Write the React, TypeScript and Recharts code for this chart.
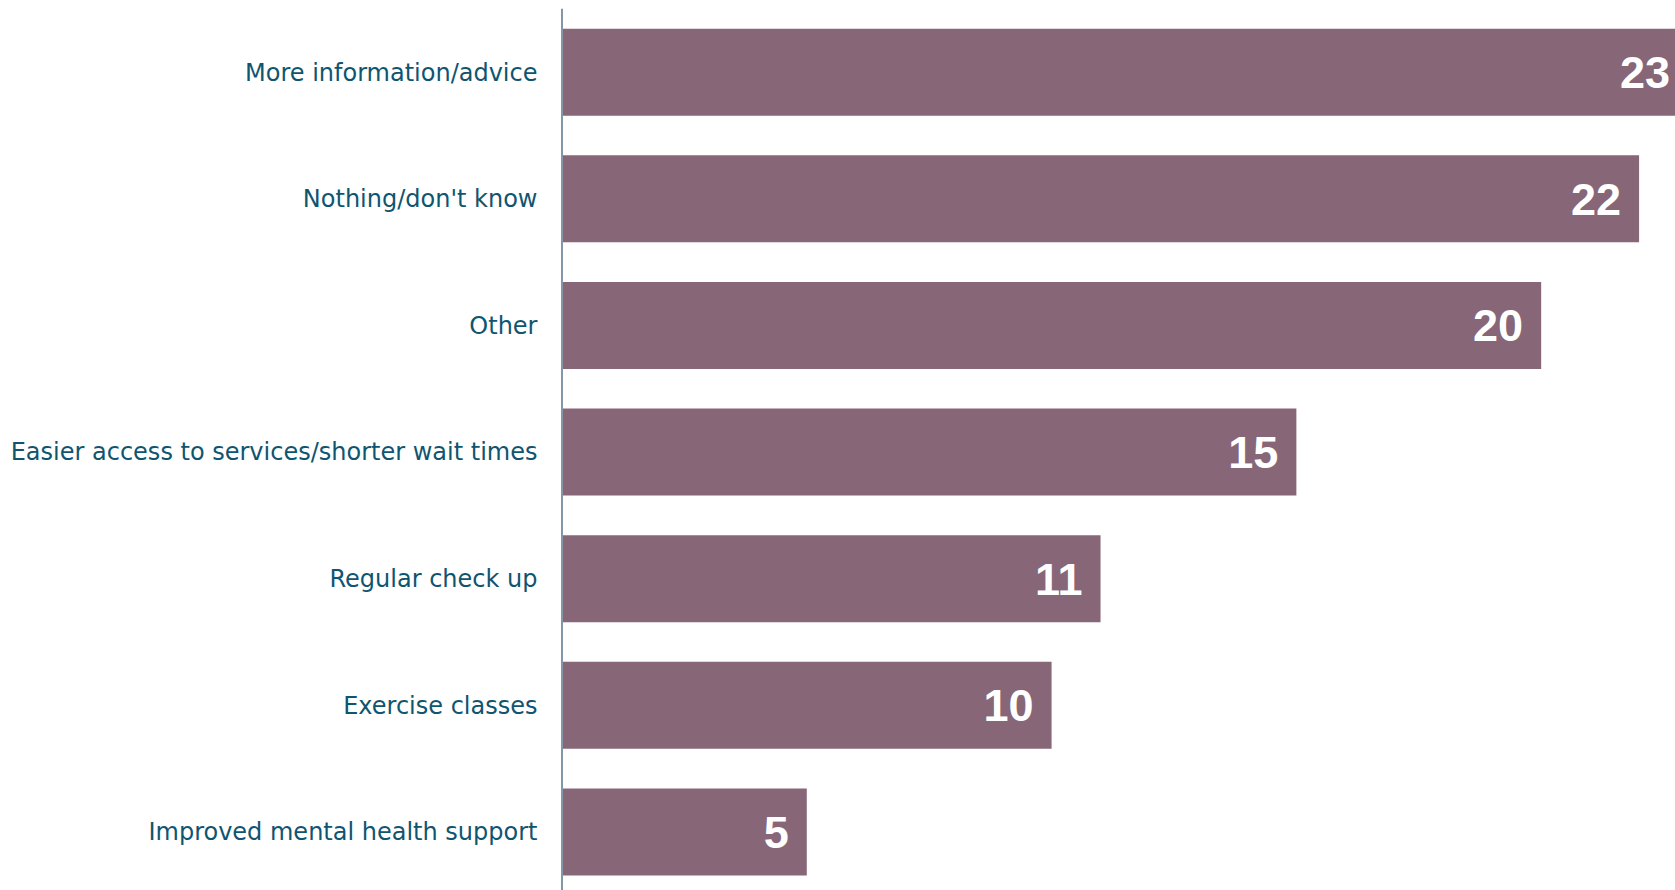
import { Bar, BarChart, LabelList, XAxis, YAxis } from "recharts";

const categories = [
  "More information/advice",
  "Nothing/don't know",
  "Other",
  "Easier access to services/shorter wait times",
  "Regular check up",
  "Exercise classes",
  "Improved mental health support",
];

const values = [23, 22, 20, 15, 11, 10, 5];

const data = categories.map((name, i) => ({ name, value: values[i] }));

const BAR_COLOR = "#876678";
const LABEL_COLOR = "#0f5570";

export default function App() {
  return (
    <div
      style={{
        position: "fixed",
        top: 0,
        left: 0,
        width: 1675,
        height: 890,
        overflow: "hidden",
        background: "#ffffff",
      }}
    >
      <BarChart
        width={1737}
        height={895}
        data={data}
        layout="vertical"
        margin={{ top: 8.7, right: 0, bottom: 0, left: 0 }}
        barCategoryGap="15.8%"
      >
        <XAxis type="number" domain={[0, 24]} hide />
        <YAxis
          type="category"
          dataKey="name"
          width={562}
          interval={0}
          tickLine={false}
          tickSize={0}
          tickMargin={24.5}
          axisLine={{ stroke: "#8497a8", strokeWidth: 2 }}
          tick={{
            fill: LABEL_COLOR,
            fontSize: 24,
            fontFamily: "'DejaVu Sans', sans-serif",
          }}
        />
        <Bar dataKey="value" fill={BAR_COLOR} isAnimationActive={false}>
          <LabelList
            dataKey="value"
            position="insideRight"
            offset={18}
            fill="#ffffff"
            style={{
              fontSize: 45,
              fontWeight: 700,
              fontFamily: "'Liberation Sans', sans-serif",
            }}
          />
        </Bar>
      </BarChart>
    </div>
  );
}
